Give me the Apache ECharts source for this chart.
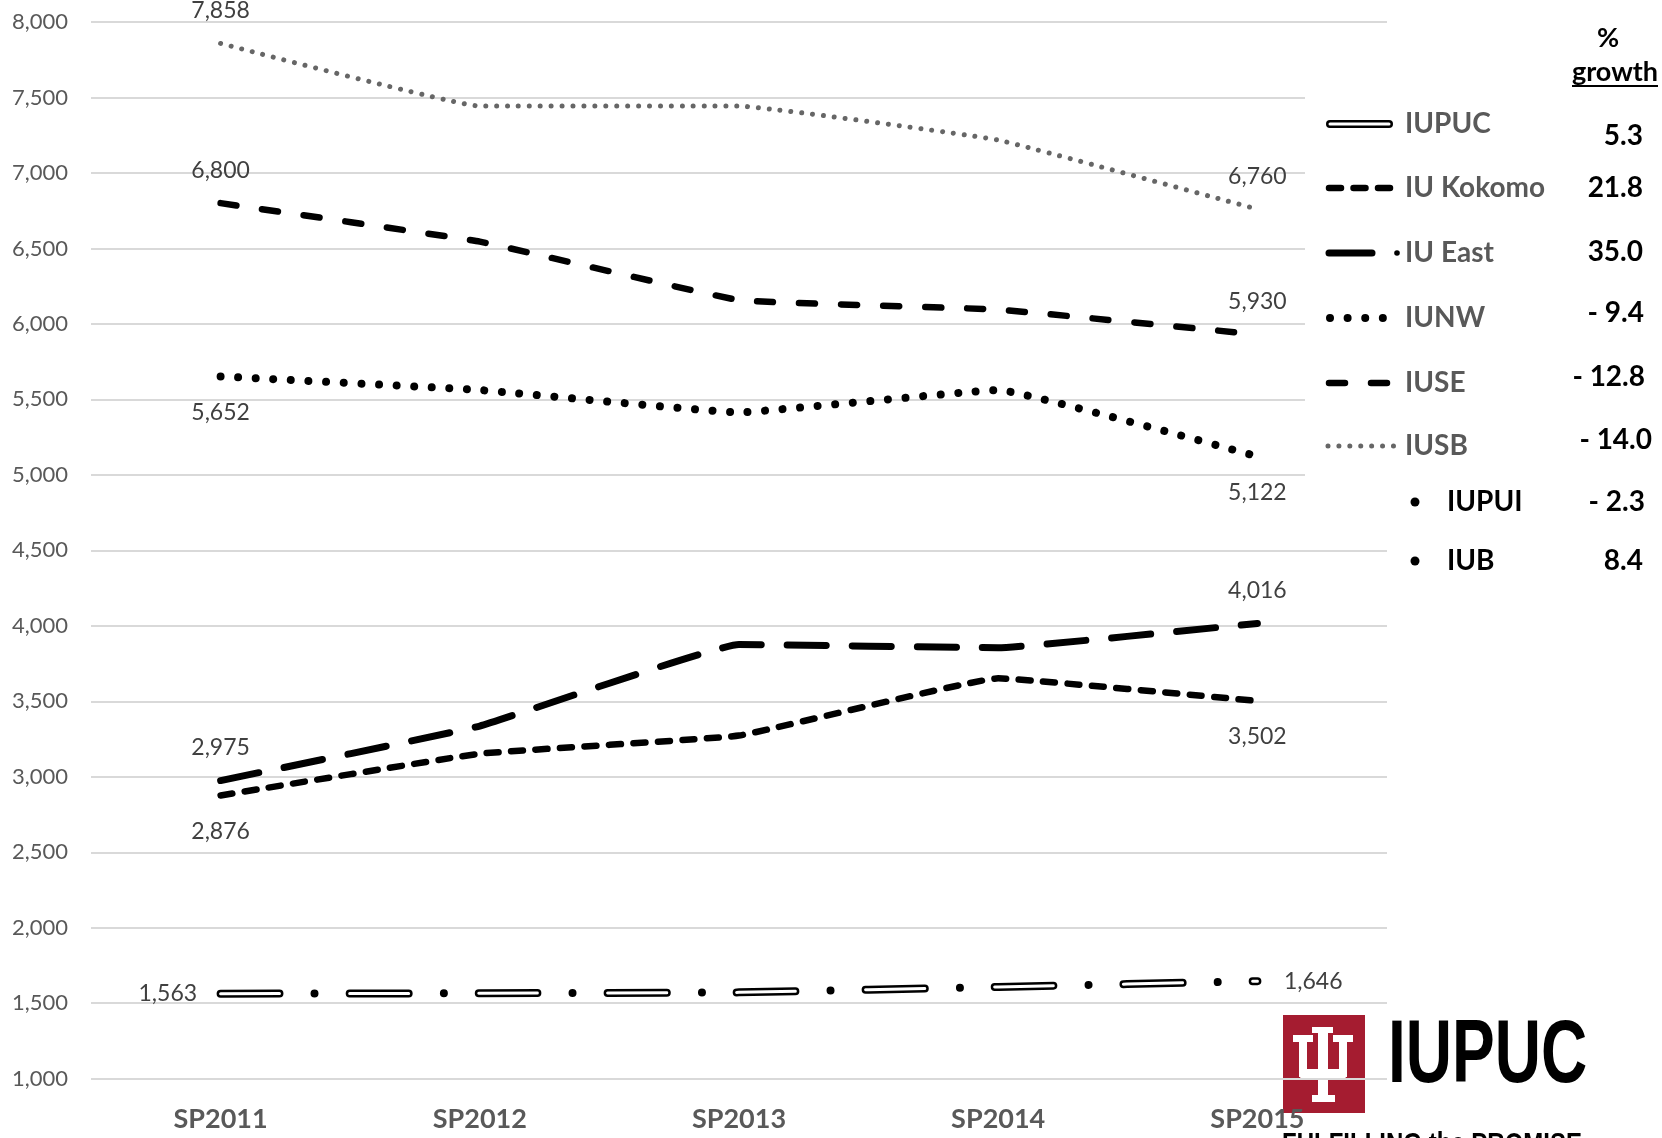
<!DOCTYPE html>
<html><head><meta charset="utf-8">
<script src="https://cdn.jsdelivr.net/npm/echarts@6/dist/echarts.min.js"></script>
<style>html,body{margin:0;padding:0;background:#fff}#c{width:1662px;height:1138px}</style>
</head><body><div id="c"></div>
<script>
// ---------- data ----------
const categories = ['SP2011', 'SP2012', 'SP2013', 'SP2014', 'SP2015'];
const yMin = 1000, yMax = 8000, yStep = 500;
const iupuc  = [1563, 1566, 1572, 1608, 1646];
const kokomo = [2876, 3153, 3273, 3652, 3502];
const iuEast = [2975, 3336, 3876, 3855, 4016];
const iunw   = [5652, 5562, 5414, 5562, 5122];
const iuse   = [6800, 6545, 6158, 6095, 5930];
const iusb   = [7858, 7443, 7443, 7218, 6760];
const legendNames = ['IUPUC', 'IU Kokomo', 'IU East', 'IUNW', 'IUSE', 'IUSB'];
const bulletNames = ['IUPUI', 'IUB'];
const growthHeader = ['%', 'growth'];
const growthValues = ['5.3', '21.8', '35.0', '- 9.4', '- 12.8', '- 14.0', '- 2.3', '8.4'];

// ---------- styles ----------
const FONT = 'Lato';
const fmt = v => Number(v).toLocaleString('en-US');
const styles = {
  iupucOuter: {color: '#000', width: 8, type: [59, 35, 0.01, 35], cap: 'round'},
  iupucInner: {color: '#fff', width: 3, type: [59, 70], cap: 'round'},
  kokomo: {color: '#000', width: 6.5, type: [12, 12.5], cap: 'round'},
  east:   {color: '#000', width: 7, type: [39, 26], cap: 'round'},
  iunw:   {color: '#000', width: 8, type: [0.01, 17.6], cap: 'round'},
  iuse:   {color: '#000', width: 6.5, type: [16, 26], cap: 'round'},
  iusb:   {color: '#666666', width: 5, type: [0.01, 10.9], cap: 'round'}
};
const labelDist = {top: 21, bottom: 24, left: 23, right: 26};

function mkData(values, firstPos, lastPos) {
  return values.map((v, i) => {
    if (firstPos && i === 0) return {value: v, label: {show: true, position: firstPos, distance: labelDist[firstPos]}};
    if (lastPos && i === values.length - 1) return {value: v, label: {show: true, position: lastPos, distance: labelDist[lastPos]}};
    return v;
  });
}
function mkSeries(name, values, ls, firstPos, lastPos, z) {
  return {
    name, type: 'line', data: mkData(values, firstPos, lastPos),
    smooth: 0.08, symbol: 'circle', symbolSize: 1, showSymbol: true,
    itemStyle: {color: 'rgba(0,0,0,0)'},
    lineStyle: {color: ls.color, width: ls.width, type: ls.type, cap: ls.cap, join: 'round'},
    label: {show: false, fontFamily: FONT, fontSize: 23, color: '#404040', formatter: p => fmt(p.value)},
    silent: true, z: z || 2, emphasis: {disabled: true}
  };
}

// ---------- legend (graphic) ----------
const rowY = [124, 188, 253, 318, 383, 446];
const bulletY = [502, 561];
const growthY = [136, 188, 252, 313, 377, 440, 502, 561];
const growthX = [1643, 1643, 1643, 1644, 1645, 1652, 1645, 1643];
const iconStyles = [null, styles.kokomo, styles.east, styles.iunw, styles.iuse, styles.iusb];
const iconStart = [1326, 1329, 1329, 1330, 1329, 1328];
const iconEnd = [1393, 1391, 1372, 1383, 1390, 1397];

const graphics = [];
graphics.push({type: 'rect', z: 1, shape: {x: 1305, y: 30, width: 357, height: 500}, style: {fill: '#fff'}, silent: true});
function lineEl(x1, x2, y, ls, z) {
  return {type: 'polyline', z: z || 5, silent: true, shape: {points: [[x1, y], [x2, y]]},
    style: {stroke: ls.color, lineWidth: ls.width, lineDash: ls.type, lineCap: ls.cap || 'butt', fill: null}};
}
legendNames.forEach((n, i) => {
  const y = rowY[i];
  if (i === 0) {
    graphics.push(lineEl(1330, 1389, y, {color: '#000', width: 8, type: null, cap: 'round'}, 5));
    graphics.push(lineEl(1330, 1389, y, {color: '#fff', width: 3, type: null, cap: 'round'}, 6));
  } else if (i === 2) {
    graphics.push(lineEl(iconStart[i], iconEnd[i], y, {color: '#000', width: 7, type: null, cap: 'round'}, 5));
    graphics.push({type: 'circle', z: 5, silent: true, shape: {cx: 1397, cy: y, r: 2.8}, style: {fill: '#000'}});
  } else {
    graphics.push(lineEl(iconStart[i], iconEnd[i], y, iconStyles[i], 5));
  }
  graphics.push({type: 'text', z: 5, silent: true, x: 1405, y: y,
    style: {text: n, font: 'bold 28px ' + FONT, fill: '#595959', align: 'left', verticalAlign: 'middle', textAlign: 'left', textVerticalAlign: 'middle'}});
});
bulletNames.forEach((n, i) => {
  const y = bulletY[i];
  graphics.push({type: 'circle', z: 5, silent: true, shape: {cx: 1415, cy: y, r: 4.5}, style: {fill: '#000'}});
  graphics.push({type: 'text', z: 5, silent: true, x: 1447, y: y,
    style: {text: n, font: 'bold 28px ' + FONT, fill: '#000', align: 'left', verticalAlign: 'middle', textAlign: 'left', textVerticalAlign: 'middle'}});
});
graphics.push({type: 'text', z: 5, silent: true, x: 1608, y: 38,
  style: {text: growthHeader[0], font: 'bold 27px ' + FONT, fill: '#000', align: 'center', verticalAlign: 'middle', textAlign: 'center', textVerticalAlign: 'middle'}});
graphics.push({type: 'text', z: 5, silent: true, x: 1615, y: 72,
  style: {text: growthHeader[1], font: 'bold 27px ' + FONT, fill: '#000', align: 'center', verticalAlign: 'middle', textAlign: 'center', textVerticalAlign: 'middle'}});
graphics.push(lineEl(1572, 1658, 86, {color: '#000', width: 2, type: null}, 5));
growthValues.forEach((g, i) => {
  graphics.push({type: 'text', z: 5, silent: true, x: growthX[i], y: growthY[i],
    style: {text: g, font: 'bold 28px ' + FONT, fill: '#000', align: 'right', verticalAlign: 'middle', textAlign: 'right', textVerticalAlign: 'middle'}});
});

// ---------- logo ----------
const red = '#a51c30';
graphics.push({type: 'rect', z: -1, silent: true, shape: {x: 1283, y: 1015, width: 82, height: 98}, style: {fill: red}});
const trident = [
  [1312, 1027, 21, 6], [1293, 1035, 20, 7], [1333, 1035, 20, 7],
  [1299, 1035, 8, 42], [1339, 1035, 8, 42], [1318, 1027, 10, 72],
  [1312, 1095, 23, 7]
];
trident.forEach(r => graphics.push({type: 'rect', z: -1, silent: true, shape: {x: r[0], y: r[1], width: r[2], height: r[3]}, style: {fill: '#fff'}}));
graphics.push({type: 'rect', z: -1, silent: true, shape: {x: 1299, y: 1069, width: 48, height: 11, r: [0, 0, 6, 6]}, style: {fill: '#fff'}});
graphics.push({type: 'text', z: -1, silent: true, x: 1388, y: 1102, scaleX: 0.72,
  style: {text: 'IUPUC', font: 'bold 89px "Liberation Sans", Arial, sans-serif', fill: '#000', align: 'left', verticalAlign: 'bottom', textAlign: 'left', textVerticalAlign: 'bottom'}});
graphics.push({type: 'text', z: -1, silent: true, x: 1282, y: 1130, scaleX: 0.8,
  style: {text: 'FULFILLING the PROMISE', font: 'bold 30px "Liberation Sans", Arial, sans-serif', fill: '#000', align: 'left', verticalAlign: 'top', textAlign: 'left', textVerticalAlign: 'top'}});

// ---------- chart ----------
const chart = echarts.init(document.getElementById('c'), null, {renderer: 'canvas'});
chart.setOption({
  animation: false,
  backgroundColor: '#fff',
  grid: {left: 91, top: 22, width: 1296, height: 1056.7, containLabel: false, outerBoundsMode: 'none'},
  xAxis: {
    type: 'category', data: categories, boundaryGap: true,
    axisLine: {show: false}, axisTick: {show: false}, splitLine: {show: false},
    axisLabel: {fontFamily: FONT, fontWeight: 'bold', fontSize: 27, color: '#595959', margin: 27}
  },
  yAxis: {
    type: 'value', min: yMin, max: yMax, interval: yStep,
    axisLine: {show: false}, axisTick: {show: false},
    axisLabel: {fontFamily: FONT, fontSize: 22, color: '#595959', margin: 23, formatter: v => fmt(v)},
    splitLine: {lineStyle: {color: '#d9d9d9', width: 2}}
  },
  series: [
    mkSeries('IUSB', iusb, styles.iusb, 'top', 'top'),
    mkSeries('IUSE', iuse, styles.iuse, 'top', 'top'),
    mkSeries('IUNW', iunw, styles.iunw, 'bottom', 'bottom'),
    mkSeries('IU East', iuEast, styles.east, 'top', 'top'),
    mkSeries('IU Kokomo', kokomo, styles.kokomo, 'bottom', 'bottom'),
    mkSeries('IUPUC', iupuc, styles.iupucOuter, 'left', 'right', 3),
    mkSeries('IUPUC inner', iupuc, styles.iupucInner, null, null, 4)
  ],
  graphic: {elements: graphics}
});
</script></body></html>
